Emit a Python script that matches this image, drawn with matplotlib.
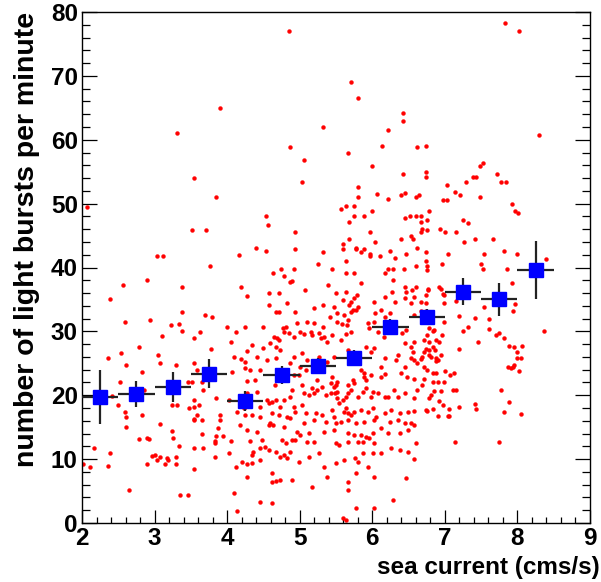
import matplotlib
matplotlib.use("Agg")
import matplotlib.pyplot as plt
from matplotlib.ticker import MultipleLocator

plt.rcParams['font.family'] = ['Liberation Sans', 'DejaVu Sans']
plt.rcParams['font.weight'] = 'bold'

# ---- profile (bin means) ----
bin_x = [2.25, 2.75, 3.25, 3.75, 4.25, 4.75, 5.25, 5.75, 6.25, 6.75, 7.25, 7.75, 8.25]
bin_y = [19.7, 20.2, 21.3, 23.4, 19.1, 23.2, 24.6, 25.9, 30.7, 32.3, 36.2, 35.0, 39.6]
bin_yerr = [4.2, 2.1, 2.4, 2.3, 1.5, 1.4, 1.3, 1.2, 1.3, 1.2, 2.1, 2.6, 4.5]
bin_xerr = [0.25] * len(bin_x)

# ---- individual measurements (sea current, bursts per minute) ----
pts_a = [
    (3.90, 64.9), (3.31, 61.0), (3.55, 54.0), (3.85, 51.0), (2.07, 49.4), (3.51, 45.9), (3.71, 45.9),
    (3.04, 41.8), (3.11, 41.8), (4.17, 42.0), (3.76, 40.3),
    (2.90, 38.0), (2.56, 37.2), (3.38, 36.9), (4.19, 36.9), (4.28, 35.5), (2.38, 35.0), (3.38, 33.1),
    (3.69, 32.6), (3.79, 32.3), (2.94, 31.8), (2.59, 31.5), (3.22, 31.0), (3.33, 31.2), (3.38, 30.1),
    (3.62, 29.9), (4.00, 30.7), (4.12, 29.9), (4.25, 30.7), (3.10, 29.3), (3.54, 29.0), (4.05, 28.3),
    (2.79, 27.5), (3.78, 27.2), (4.28, 26.9), (2.54, 26.6), (3.05, 26.3), (2.36, 25.8), (4.10, 26.0),
    (4.19, 25.6), (4.25, 25.2), (2.61, 24.7), (3.08, 25.0), (3.29, 24.7), (3.54, 25.0), (4.25, 24.2),
    (2.83, 23.6), (3.58, 23.9), (4.07, 23.6), (4.28, 22.3), (2.52, 22.0), (3.46, 22.0), (3.51, 22.0),
    (3.65, 22.0), (2.85, 20.9), (3.67, 20.9), (2.41, 19.9), (3.85, 19.6), (3.54, 19.3), (2.49, 18.5),
    (3.24, 18.5), (3.31, 18.5), (3.61, 18.5), (3.54, 18.2), (3.48, 18.0), (4.03, 19.3), (4.23, 18.0),
    (4.25, 18.2), (2.59, 17.4), (4.14, 17.4), (2.61, 16.6), (2.83, 16.9), (3.58, 16.9), (3.55, 16.3),
    (3.54, 16.1), (3.90, 16.9), (3.90, 16.1), (3.65, 16.1), (4.25, 16.9), (3.08, 15.5), (2.61, 15.0),
    (4.18, 15.3), (3.24, 14.4), (3.65, 13.9), (3.87, 14.9), (3.85, 13.6), (3.94, 13.6), (3.26, 13.3),
    (2.90, 13.3), (2.92, 13.1), (2.79, 13.1), (3.83, 12.8), (3.83, 12.5), (4.05, 12.8), (4.32, 12.8),
    (3.33, 12.0), (2.16, 11.7), (3.54, 11.7), (3.67, 11.7), (2.38, 10.9), (4.03, 10.9), (2.97, 10.5),
    (3.00, 10.7), (3.08, 10.3), (3.03, 9.8), (3.17, 10.1), (3.19, 9.8), (3.29, 10.3), (3.29, 9.2),
    (3.15, 9.2), (2.90, 9.2), (2.01, 9.2), (2.11, 8.7), (2.36, 9.0), (3.54, 8.5), (3.83, 10.3),
    (4.12, 8.7), (4.21, 9.6), (4.28, 9.2), (2.65, 5.2), (3.35, 4.4), (3.46, 4.4), (4.10, 4.7), (4.14, 1.9),
]
pts_b = [
    (4.85, 77.1), (5.71, 69.1), (5.80, 66.6), (6.42, 64.2), (6.42, 62.9), (5.32, 62.0), (6.22, 61.5),
    (4.87, 58.8), (6.13, 59.0), (6.62, 58.8), (5.66, 57.9), (5.06, 56.9), (6.00, 55.9), (6.42, 54.7),
    (5.03, 53.4), (5.80, 52.6), (5.80, 51.0), (6.07, 51.5), (6.40, 51.3), (6.45, 51.6), (6.22, 50.7),
    (6.60, 51.0), (5.57, 49.1), (5.64, 49.6), (5.75, 49.6), (6.00, 48.8), (4.54, 48.0), (4.56, 46.7),
    (5.68, 47.2), (5.75, 48.0), (5.88, 48.0), (6.45, 47.7), (6.52, 48.0), (6.60, 48.0), (4.94, 45.6),
    (5.97, 45.6), (5.68, 44.5), (6.40, 44.5), (6.54, 44.9), (6.56, 44.5), (6.04, 44.0), (4.40, 43.1),
    (4.54, 42.6), (4.94, 42.9), (5.59, 43.7), (5.59, 42.9), (5.77, 43.1), (5.77, 42.9), (5.88, 42.9),
    (5.84, 42.4), (5.97, 42.1), (5.97, 41.8), (6.11, 41.8), (6.25, 42.6), (6.31, 41.5), (6.47, 42.1),
    (5.32, 42.4), (5.64, 41.0), (5.25, 40.5), (4.74, 39.8), (4.92, 39.8), (5.44, 39.8), (6.22, 39.8),
    (6.29, 39.8), (6.60, 40.3),
]
pts_c = [
    (7.83, 78.2), (8.02, 77.1), (8.30, 60.7), (6.74, 59.0), (6.74, 55.0), (6.74, 54.2), (7.52, 56.4),
    (7.48, 55.9), (7.72, 54.7), (7.39, 54.2), (7.43, 54.2), (7.29, 53.4), (7.77, 53.4), (7.84, 53.4),
    (7.03, 52.9), (7.14, 51.8), (7.21, 51.3), (6.65, 51.3), (6.98, 50.5), (7.03, 50.5), (7.48, 51.0),
    (7.92, 49.9), (6.78, 48.8), (7.97, 48.8), (8.01, 48.6), (6.67, 48.0), (6.67, 47.2), (6.76, 47.5),
    (7.25, 47.5), (7.32, 46.9), (6.69, 46.1), (6.76, 45.8), (6.67, 45.6), (6.93, 46.1), (7.00, 45.6),
    (7.16, 45.6), (7.27, 44.0), (7.41, 44.5), (7.67, 44.5), (6.62, 43.1), (6.74, 42.4), (7.05, 42.1),
    (7.54, 42.1), (7.81, 42.6), (7.99, 42.1), (6.74, 41.0), (6.76, 40.3), (6.96, 40.5), (7.50, 40.5),
    (8.40, 41.3), (7.85, 39.8), (7.53, 39.8),
]
pts_d = [
    (6.76, 39.6), (7.92, 37.5), (6.60, 37.0), (6.58, 35.4), (6.67, 34.6), (6.74, 35.7), (6.77, 36.7),
    (6.77, 36.5), (6.92, 37.0), (6.94, 36.7), (6.97, 35.9), (6.99, 35.7), (7.16, 34.8), (6.99, 34.5),
    (6.74, 34.5), (6.67, 33.2), (6.74, 33.2), (7.54, 33.8), (7.97, 34.3), (7.94, 33.2), (6.58, 32.6),
    (7.20, 32.4), (7.41, 32.1), (7.61, 31.9), (6.99, 31.5), (6.78, 30.5), (6.83, 30.0), (6.85, 30.2),
    (6.76, 29.5), (7.25, 30.0), (7.32, 30.7), (7.61, 30.3), (7.70, 29.4), (7.74, 29.7), (7.81, 28.9),
    (8.37, 30.0), (6.58, 28.4), (6.71, 28.6), (6.78, 28.4), (6.88, 28.6), (6.92, 28.4), (6.96, 29.4),
    (6.83, 27.6), (6.74, 27.3), (6.71, 26.8), (6.78, 27.1), (6.87, 27.1), (6.94, 26.3), (7.46, 28.4),
    (7.19, 27.2), (7.89, 27.7), (7.95, 27.5), (8.00, 26.8), (8.06, 27.7), (7.99, 25.8), (8.05, 25.9),
    (7.91, 24.2), (7.94, 24.5), (7.95, 24.7), (8.02, 23.8), (7.87, 24.4), (6.56, 26.8), (6.58, 25.5),
    (6.62, 25.0), (6.67, 25.6), (6.69, 26.0), (6.78, 26.3), (6.81, 26.0), (6.88, 25.8), (6.90, 25.5),
    (6.88, 25.4), (6.71, 24.5), (6.76, 23.9), (6.83, 23.5), (6.88, 23.5), (7.00, 23.8), (7.07, 23.2),
    (7.13, 23.5), (6.58, 22.5), (6.71, 22.5), (6.83, 22.1), (6.90, 22.1), (6.99, 22.1), (6.62, 20.8),
    (6.69, 21.6), (6.85, 20.7), (6.81, 20.0), (6.78, 19.6), (6.94, 20.7), (7.11, 20.8), (7.16, 20.8),
    (6.92, 19.1), (6.97, 18.4), (7.06, 17.8), (7.06, 16.8), (7.04, 16.8), (6.74, 17.7), (6.76, 17.6),
    (6.83, 17.8), (6.90, 16.8), (6.58, 17.6), (6.58, 15.4), (7.20, 18.1), (7.41, 18.6), (7.43, 17.8),
    (7.77, 20.8), (7.88, 18.9), (7.81, 17.3), (8.05, 17.1), (6.60, 12.5), (7.14, 12.7), (7.75, 12.7),
    (6.58, 10.0),
]
pts_e = [
    (4.63, 39.07), (4.78, 38.71), (4.89, 37.93), (4.87, 37.67), (5.39, 37.25), (5.64, 39.07), (5.75, 39.07),
    (5.84, 37.51), (6.18, 39.07), (6.29, 38.03), (6.44, 39.70),
    (4.58, 35.94), (4.72, 35.94), (5.07, 36.47), (5.50, 35.94), (5.64, 36.20), (5.59, 34.90), (5.70, 34.64),
    (5.75, 35.16), (5.79, 35.68), (6.03, 34.53), (6.17, 35.42), (6.27, 36.20), (6.45, 36.99), (6.47, 36.20),
    (6.55, 36.47), (4.82, 34.38), (4.58, 34.12), (6.31, 34.64), (6.45, 35.16), (6.53, 34.38),
    (5.68, 34.12), (5.73, 33.34), (5.80, 33.86), (5.77, 33.34), (5.71, 33.07), (5.52, 32.81), (5.61, 32.55),
    (5.42, 32.29), (4.68, 32.97), (4.72, 32.97), (4.93, 32.97), (5.19, 33.60), (5.32, 34.12), (5.47, 33.86),
    (5.51, 31.51), (5.58, 31.14), (5.65, 30.99), (5.66, 31.77), (5.10, 31.51), (5.19, 31.25), (5.32, 30.73),
    (4.96, 31.25), (4.81, 30.73), (4.77, 30.47), (4.49, 30.73), (6.12, 33.34), (6.17, 32.29), (6.24, 32.81),
    (6.04, 32.81), (5.94, 31.25), (6.02, 31.51),
    (5.01, 29.94), (5.06, 29.58), (5.15, 29.94), (5.17, 29.42), (5.26, 29.68), (5.29, 28.90), (5.34, 29.16),
    (5.38, 28.38), (5.64, 29.58), (5.57, 28.64), (5.45, 29.42), (5.70, 29.94), (5.96, 30.47), (6.08, 29.94),
    (6.16, 29.16), (6.41, 29.68), (6.47, 30.21), (6.45, 28.12), (4.64, 29.16), (4.69, 28.90), (4.72, 28.64),
    (4.59, 28.12), (4.68, 27.60), (4.78, 29.94), (4.85, 29.68), (4.92, 29.16), (4.34, 27.86), (4.49, 27.34),
    (6.54, 27.60),
    (4.41, 26.03), (4.55, 25.51), (4.73, 27.08), (4.68, 25.77), (4.92, 26.03), (5.03, 26.55), (5.10, 25.51),
    (5.26, 26.03), (5.47, 26.03), (5.66, 27.08), (5.68, 26.03), (5.91, 27.60), (5.98, 26.81), (6.03, 27.34),
    (6.17, 25.77), (6.32, 25.51), (6.35, 26.29), (6.45, 24.47), (6.54, 25.77), (4.86, 24.99), (5.01, 24.47),
    (5.38, 25.25), (6.12, 24.47),
    (4.31, 23.95), (4.45, 23.95), (4.38, 22.38), (4.66, 21.60), (4.92, 23.16), (4.99, 23.16), (5.08, 23.95),
    (5.45, 22.90), (5.52, 22.12), (5.84, 23.95), (5.88, 23.42), (5.89, 22.90), (5.91, 22.38), (5.98, 23.16),
    (6.12, 22.90), (6.18, 23.32), (6.39, 23.53), (6.48, 22.80), (4.89, 20.82), (5.03, 21.60), (5.17, 21.08),
    (5.24, 22.38), (5.31, 21.34), (5.43, 21.86), (5.47, 21.34), (5.50, 21.60), (5.66, 21.60), (5.75, 21.86),
    (5.73, 22.38),
    (4.27, 20.29), (4.41, 20.55), (4.55, 19.25), (4.58, 18.73), (4.62, 18.99), (4.68, 19.25), (4.78, 19.25),
    (4.87, 19.77), (5.06, 20.29), (5.13, 20.03), (5.19, 20.29), (5.24, 20.82), (5.36, 20.03), (5.43, 20.29),
    (5.48, 20.29), (5.52, 19.51), (5.54, 18.73), (5.59, 19.25), (5.51, 20.55), (5.64, 19.77), (5.66, 20.29),
    (5.70, 20.82), (5.80, 19.77), (5.87, 20.55), (5.91, 21.08), (6.01, 20.55), (5.98, 19.77), (6.08, 20.29),
    (6.17, 19.77), (6.21, 19.77), (6.30, 20.82), (6.35, 19.77), (6.45, 20.29), (6.58, 19.51), (4.45, 18.21),
    (4.73, 18.21), (4.92, 18.21), (5.03, 18.47),
    (4.34, 16.90), (4.45, 16.64), (4.62, 17.16), (4.71, 16.90), (4.82, 16.64), (4.94, 17.42), (5.08, 17.16),
    (5.22, 17.16), (5.31, 16.90), (5.45, 17.69), (5.47, 16.64), (5.61, 17.42), (5.64, 17.95), (5.66, 17.16),
    (5.70, 16.90), (5.75, 17.42), (5.84, 17.69), (5.94, 17.42), (6.01, 17.95), (6.05, 16.64), (6.17, 17.16),
    (6.26, 17.69), (6.38, 17.16), (6.49, 17.42), (4.59, 15.60), (4.87, 16.38), (5.06, 15.60), (5.19, 16.12),
    (5.36, 15.86), (5.50, 15.60), (5.57, 15.86), (5.66, 16.12), (5.77, 15.60), (5.89, 15.86), (6.03, 16.12),
    (6.24, 15.86), (6.35, 16.12), (6.45, 15.60), (6.54, 15.60),
    (4.27, 14.56), (4.41, 14.29), (4.57, 15.34), (4.63, 15.34), (4.78, 15.08), (4.96, 14.29), (5.01, 13.77),
    (5.13, 14.03), (5.33, 14.29), (5.47, 14.56), (5.66, 14.03), (5.75, 13.77), (5.84, 13.77), (5.91, 13.51),
    (6.01, 14.03), (6.12, 14.82), (6.21, 14.03), (6.38, 14.03), (6.49, 14.56), (4.48, 12.99), (4.52, 11.95),
    (4.75, 12.99), (4.81, 12.47), (4.89, 12.99), (4.94, 12.99), (5.10, 12.73), (5.19, 12.73), (5.50, 12.47),
    (5.54, 12.21), (5.66, 12.73), (5.80, 12.73), (5.87, 12.73), (5.96, 13.25), (6.03, 12.47),
    (4.36, 11.16), (4.34, 10.64), (4.45, 11.69), (4.45, 9.86), (4.58, 11.43), (4.68, 11.16), (4.73, 10.38),
    (4.78, 10.64), (4.82, 10.12), (4.87, 11.16), (4.99, 9.60), (5.13, 10.38), (5.26, 10.90), (5.33, 8.82),
    (5.50, 9.34), (5.61, 9.86), (5.76, 10.12), (5.80, 9.60), (5.87, 10.90), (6.01, 10.90), (6.12, 10.90),
    (6.26, 11.69), (6.38, 11.43), (6.49, 11.16), (4.34, 9.34),
    (4.62, 7.77), (4.73, 6.73), (4.62, 6.47), (4.68, 6.63), (4.89, 6.73), (5.17, 5.69), (5.38, 7.25),
    (5.66, 6.47), (5.77, 7.77), (5.94, 8.82), (6.03, 7.25), (6.47, 6.99), (4.27, 7.25),
    (4.45, 3.34), (4.62, 3.08), (5.66, 5.17), (5.77, 2.30), (6.02, 2.30), (6.28, 3.60), (5.59, 0.73),
    (5.64, 0.47),
]
all_pts = pts_a + pts_b + pts_c + pts_d + pts_e
current = [p[0] for p in all_pts]
bursts = [p[1] for p in all_pts]

W, H = 601, 582
fig = plt.figure(figsize=(W / 100, H / 100), dpi=100)
ax = fig.add_axes([82 / W, (H - 523) / H, (590 - 82) / W, (523 - 12) / H])

ax.plot(current, bursts, linestyle='none', marker='o', markersize=2.8,
        markerfacecolor='#ff0000', markeredgecolor='#ff0000', markeredgewidth=0.3, zorder=2)

ax.errorbar(bin_x, bin_y, xerr=bin_xerr, yerr=bin_yerr, fmt='none',
            ecolor='#222222', elinewidth=1.6, capsize=0, zorder=3)
ax.plot(bin_x, bin_y, linestyle='none', marker='s', markersize=9.8,
        markerfacecolor='#0000ff', markeredgecolor='#0000ff', zorder=4)

ax.set_xlim(2, 9)
ax.set_ylim(0, 80)
ax.xaxis.set_major_locator(MultipleLocator(1))
ax.xaxis.set_minor_locator(MultipleLocator(0.2))
ax.yaxis.set_major_locator(MultipleLocator(10))
ax.yaxis.set_minor_locator(MultipleLocator(2))

ax.tick_params(axis='x', which='major', direction='in', length=9.5, width=0.9,
               top=False, bottom=True, labelsize=17.5, pad=3)
ax.tick_params(axis='x', which='minor', direction='in', length=4.5, width=0.9,
               top=False, bottom=True)
ax.tick_params(axis='y', which='major', direction='in', length=11, width=0.9,
               left=True, right=True, labelsize=17.5, pad=3)
ax.tick_params(axis='y', which='minor', direction='in', length=6, width=0.9,
               left=True, right=True)
for lab in ax.get_xticklabels() + ax.get_yticklabels():
    lab.set_fontweight('bold')

for sp in ax.spines.values():
    sp.set_linewidth(1.0)
    sp.set_color('black')

fig.text(600 / W, 1 - 574 / H, 'sea current (cms/s)', ha='right', va='baseline',
         fontsize=17.5, fontweight='bold')
fig.text(27 / W, 1 - 12 / H, 'number of light bursts per minute', rotation=90,
         ha='center', va='top', fontsize=20.5, fontweight='bold')

fig.savefig('out.png', dpi=100)
